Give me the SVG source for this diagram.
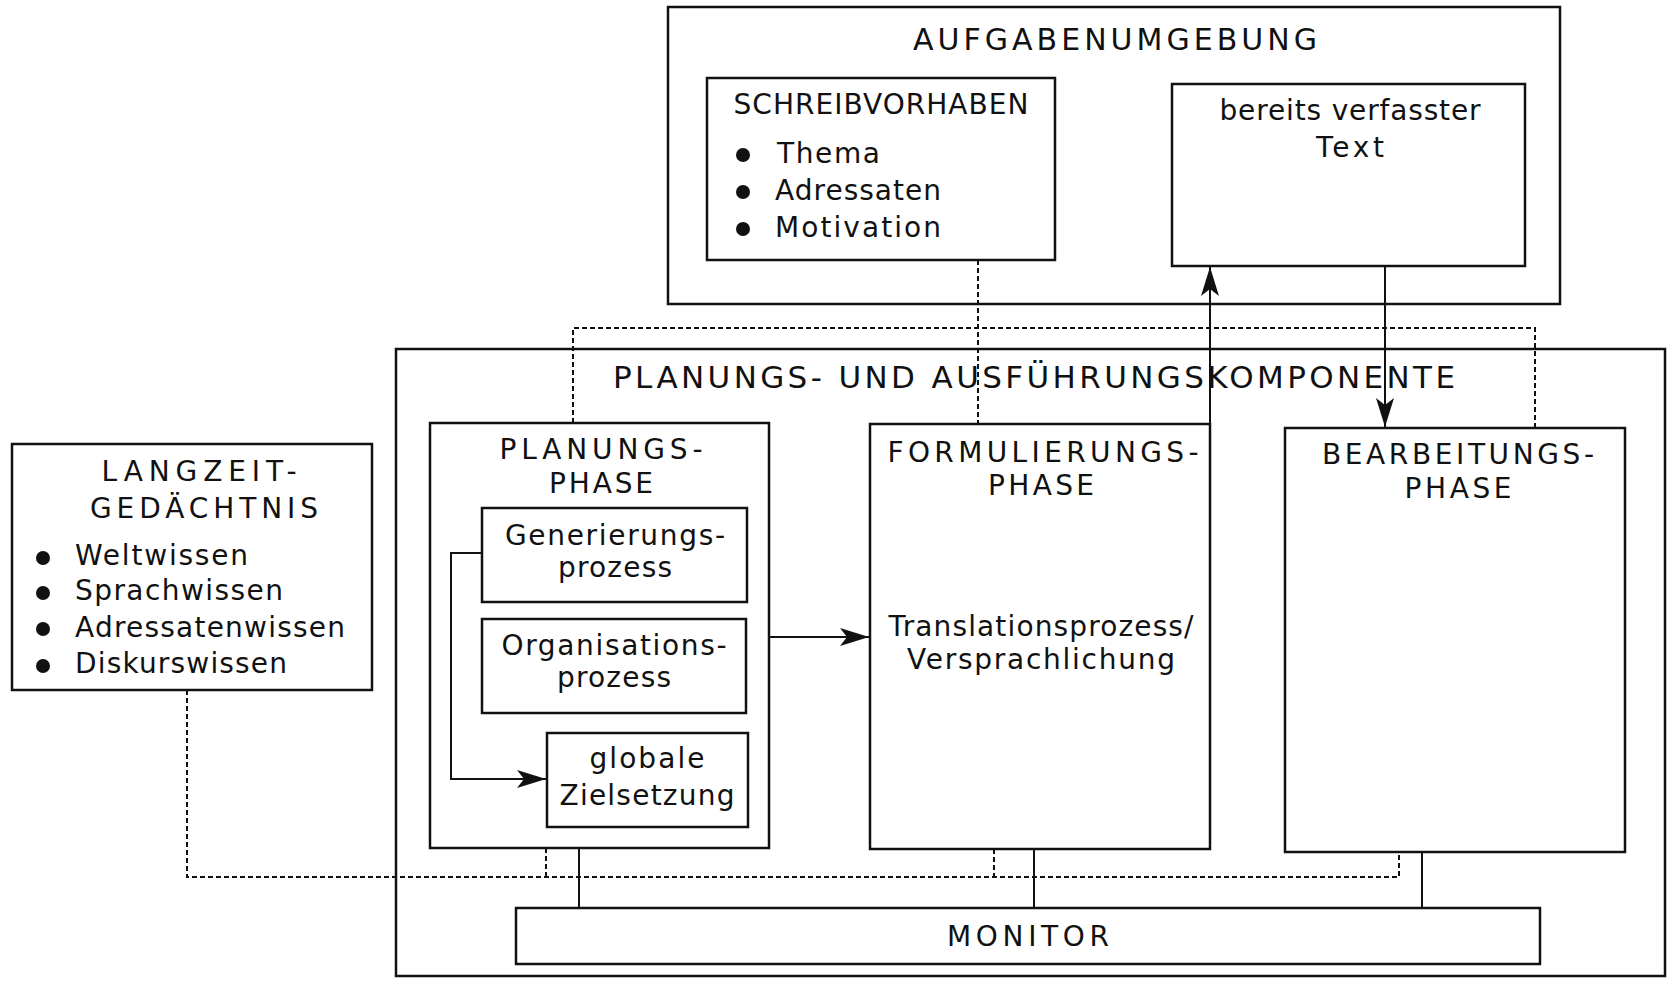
<svg xmlns="http://www.w3.org/2000/svg" width="1669" height="983" viewBox="0 0 1669 983">
<style>
.box{fill:none;stroke:#111;stroke-width:2.5}
.t{font-family:"DejaVu Sans","Open Sans",sans-serif;fill:#111;font-size:28px}
.c{text-anchor:middle}
.cap{font-size:28px}
.ttl{font-size:30px}
.sol{fill:none;stroke:#111;stroke-width:2}
.dash{fill:none;stroke:#111;stroke-width:2;stroke-dasharray:5 3}
.bul{fill:#111}
</style>
<defs>
<marker id="ah" markerUnits="userSpaceOnUse" markerWidth="32" markerHeight="22" viewBox="-30 -11 32 22" refX="0" refY="0" orient="auto">
<path d="M0,0 L-29,-9 L-22,0 L-29,9 Z" fill="#111"/>
</marker>
</defs>
<rect width="1669" height="983" fill="#fff"/>

<g id="aufgabenumgebung">
<rect class="box" x="668" y="7" width="892" height="297"/>
<text class="t c ttl" x="1115" y="50" textLength="404">AUFGABENUMGEBUNG</text>
</g>

<g id="schreibvorhaben">
<rect class="box" x="707" y="78" width="348" height="182"/>
<text class="t c cap" x="881" y="114" textLength="295">SCHREIBVORHABEN</text>
<circle class="bul" cx="743" cy="155" r="7"/>
<circle class="bul" cx="743" cy="192" r="7"/>
<circle class="bul" cx="743" cy="229" r="7"/>
<text class="t" x="777" y="163" textLength="103">Thema</text>
<text class="t" x="775" y="200" textLength="166">Adressaten</text>
<text class="t" x="775" y="237" textLength="166">Motivation</text>
</g>

<g id="text-box">
<rect class="box" x="1172" y="84" width="353" height="182"/>
<text class="t c" x="1350" y="120" textLength="261">bereits verfasster</text>
<text class="t c" x="1350" y="157" textLength="68">Text</text>
</g>

<g id="planungs-und-ausfuehrungskomponente">
<rect class="box" x="396" y="349" width="1269" height="627"/>
<text class="t c ttl" x="1034" y="388" style="font-size:31px" textLength="842">PLANUNGS- UND AUSFÜHRUNGSKOMPONENTE</text>
</g>

<g id="langzeitgedaechtnis">
<rect class="box" x="12" y="444" width="360" height="246"/>
<text class="t c cap" x="199" y="481" textLength="195">LANGZEIT-</text>
<text class="t c cap" x="204" y="518" textLength="228">GEDÄCHTNIS</text>
<circle class="bul" cx="43" cy="558" r="7"/>
<circle class="bul" cx="43" cy="593" r="7"/>
<circle class="bul" cx="43" cy="629" r="7"/>
<circle class="bul" cx="43" cy="666" r="7"/>
<text class="t" x="75" y="565" textLength="173">Weltwissen</text>
<text class="t" x="75" y="600" textLength="208">Sprachwissen</text>
<text class="t" x="75" y="637" textLength="270">Adressatenwissen</text>
<text class="t" x="75" y="673" textLength="212">Diskurswissen</text>
</g>

<g id="planungsphase">
<rect class="box" x="430" y="423" width="339" height="425"/>
<text class="t c cap" x="601" y="459" textLength="203">PLANUNGS-</text>
<text class="t c cap" x="601" y="493" textLength="104">PHASE</text>
</g>

<g id="generierungsprozess">
<rect class="box" x="482" y="508" width="265" height="94"/>
<text class="t c" x="615" y="545" textLength="220">Generierungs-</text>
<text class="t c" x="615" y="577" textLength="114">prozess</text>
</g>

<g id="organisationsprozess">
<rect class="box" x="482" y="619" width="264" height="94"/>
<text class="t c" x="614" y="655" textLength="225">Organisations-</text>
<text class="t c" x="614" y="687" textLength="114">prozess</text>
</g>

<g id="globale-zielsetzung">
<rect class="box" x="547" y="733" width="201" height="94"/>
<text class="t c" x="647" y="768" textLength="115">globale</text>
<text class="t c" x="647" y="805" textLength="175">Zielsetzung</text>
</g>

<g id="formulierungsphase">
<rect class="box" x="870" y="424" width="340" height="425"/>
<text class="t c cap" x="1043" y="462" textLength="311">FORMULIERUNGS-</text>
<text class="t c cap" x="1041" y="495" textLength="106">PHASE</text>
<text class="t c" x="1041" y="636" textLength="305">Translationsprozess/</text>
<text class="t c" x="1041" y="669" textLength="268">Versprachlichung</text>
</g>

<g id="bearbeitungsphase">
<rect class="box" x="1285" y="428" width="340" height="424"/>
<text class="t c cap" x="1458" y="464" textLength="272">BEARBEITUNGS-</text>
<text class="t c cap" x="1458" y="498" textLength="107">PHASE</text>
</g>

<g id="monitor">
<rect class="box" x="516" y="908" width="1024" height="56"/>
<text class="t c cap" x="1028" y="946" textLength="162">MONITOR</text>
</g>

<g id="connectors">
<polyline class="dash" points="573,423 573,328 1535,328 1535,428"/>
<line class="dash" x1="978" y1="260" x2="978" y2="424"/>
<polyline class="dash" points="187,690 187,877 1399,877 1399,852"/>
<line class="dash" x1="546" y1="848" x2="546" y2="877"/>
<line class="dash" x1="994" y1="849" x2="994" y2="877"/>
<line class="sol" x1="579" y1="848" x2="579" y2="908"/>
<line class="sol" x1="1034" y1="849" x2="1034" y2="908"/>
<line class="sol" x1="1422" y1="852" x2="1422" y2="908"/>
<line class="sol" x1="1210" y1="424" x2="1210" y2="267" marker-end="url(#ah)"/>
<line class="sol" x1="1385" y1="266" x2="1385" y2="427" marker-end="url(#ah)"/>
<line class="sol" x1="769" y1="637" x2="869" y2="637" marker-end="url(#ah)"/>
<polyline class="sol" points="482,553 451,553 451,779 546,779" marker-end="url(#ah)"/>
</g>
</svg>
